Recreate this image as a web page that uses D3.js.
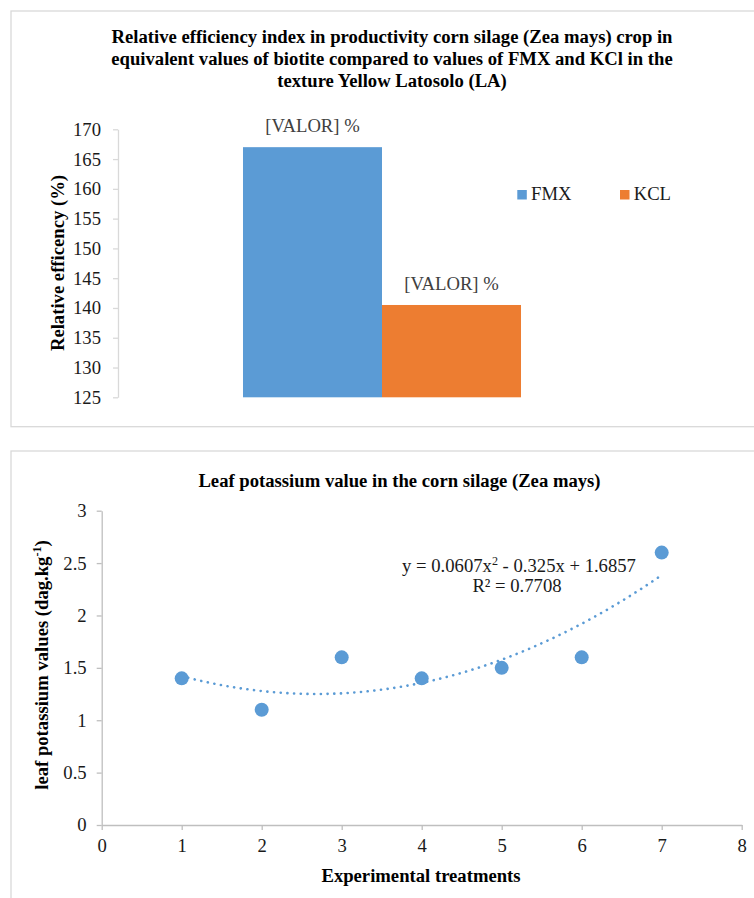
<!DOCTYPE html>
<html>
<head>
<meta charset="utf-8">
<script src="https://cdn.jsdelivr.net/npm/d3@7"></script>
<style>
  html, body { margin: 0; padding: 0; background: #fff; }
  svg { display: block; }
  text { font-family: "Liberation Serif", "Times New Roman", serif; }
</style>
</head>
<body>
<svg id="chart" width="754" height="898"></svg>
<script>
// ---------- Data ----------
const titleLines1 = [
  "Relative efficiency index in productivity corn silage (Zea mays) crop in",
  "equivalent values of biotite compared to values of FMX and KCl in the",
  "texture Yellow Latosolo (LA)"
];
const barCategory = ["LA"];
const barSeries = ["FMX", "KCL"];
const barValues = [167, 140.5];
const barLabels = ["[VALOR] %", "[VALOR] %"];
const barColors = ["#5b9bd5", "#ed7d31"];
const yTicks1 = [125, 130, 135, 140, 145, 150, 155, 160, 165, 170];

const title2 = "Leaf potassium value in the corn silage (Zea mays)";
const treatments = [1, 2, 3, 4, 5, 6, 7];
const potassium = [1.4, 1.1, 1.6, 1.4, 1.5, 1.6, 2.6];
const trendCoef = [1.6857, -0.325, 0.0607]; // c, b, a from the chart label
const xTicks2 = [0, 1, 2, 3, 4, 5, 6, 7, 8];
const yTicks2 = [0, 0.5, 1, 1.5, 2, 2.5, 3];

// ---------- Setup ----------
const FS = 18.67;
const SERIF = "'Liberation Serif','Times New Roman',serif";
const svg = d3.select("#chart");

// chart boxes
svg.append("rect").attr("x", 11).attr("y", 11).attr("width", 762).attr("height", 415.7)
  .attr("fill", "#fff").attr("stroke", "#d9d9d9").attr("stroke-width", 1.3);
svg.append("rect").attr("x", 11).attr("y", 451).attr("width", 777).attr("height", 470)
  .attr("fill", "#fff").attr("stroke", "#d9d9d9").attr("stroke-width", 1.3);

// ---------- Chart 1 ----------
const t1 = svg.append("text").attr("text-anchor", "middle")
  .attr("font-weight", "bold").attr("font-size", FS).attr("fill", "#000");
titleLines1.forEach((l, i) => {
  t1.append("tspan").attr("x", 392).attr("y", 43.3 + i * 21.7).text(l);
});

const p1 = { left: 118, right: 646, top: 129.3, bottom: 397.3 };
const y1 = d3.scaleLinear().domain([125, 170]).range([p1.bottom, p1.top]);
const xCat = d3.scaleBand().domain(barCategory).range([p1.left, p1.right]).paddingInner(0).paddingOuter(0.4496);
const xSer = d3.scaleBand().domain(barSeries).range([0, xCat.bandwidth()]);

const yAxis1 = d3.axisLeft(y1).tickValues(yTicks1).tickSize(5).tickSizeOuter(0).tickPadding(12);
const ga1 = svg.append("g").attr("transform", `translate(${p1.left},0)`).call(yAxis1);
ga1.select(".domain").attr("stroke", "#d9d9d9").attr("stroke-width", 1.3);
ga1.selectAll(".tick line").attr("stroke", "#d9d9d9").attr("stroke-width", 1.3);
ga1.selectAll(".tick text").attr("font-size", FS).attr("fill", "#1a1a1a").attr("font-family", SERIF);

const barData = barSeries.map((s, i) => ({ s, v: barValues[i], label: barLabels[i], c: barColors[i] }));
const gBars = svg.append("g").attr("transform", `translate(${xCat(barCategory[0])},0)`);
gBars.selectAll("rect").data(barData).join("rect")
  .attr("x", d => xSer(d.s)).attr("width", xSer.bandwidth())
  .attr("y", d => y1(d.v)).attr("height", d => y1(125) - y1(d.v))
  .attr("fill", d => d.c);
gBars.selectAll("text").data(barData).join("text")
  .attr("x", d => xSer(d.s) + xSer.bandwidth() / 2)
  .attr("y", d => y1(d.v) - 15.3)
  .attr("text-anchor", "middle").attr("font-size", FS).attr("fill", "#404040")
  .text(d => d.label);

// y-axis title
svg.append("text").attr("transform", "translate(57,263) rotate(-90)")
  .attr("text-anchor", "middle").attr("dy", "0.35em")
  .attr("font-weight", "bold").attr("font-size", FS).attr("fill", "#000")
  .text("Relative efficency (%)");

// legend
const legX = [517.3, 620];
const leg = svg.append("g");
barData.forEach((d, i) => {
  leg.append("rect").attr("x", legX[i]).attr("y", 190).attr("width", 9.5).attr("height", 9.5).attr("fill", d.c);
  leg.append("text").attr("x", legX[i] + 13.7).attr("y", 200).attr("font-size", FS).attr("fill", "#1a1a1a").text(d.s);
});

// ---------- Chart 2 ----------
svg.append("text").attr("x", 399.5).attr("y", 486.7).attr("text-anchor", "middle")
  .attr("font-weight", "bold").attr("font-size", FS).attr("fill", "#000").text(title2);

const p2 = { left: 101.7, right: 741.7, top: 510.7, bottom: 825 };
const x2 = d3.scaleLinear().domain([0, 8]).range([p2.left, p2.right]);
const y2 = d3.scaleLinear().domain([0, 3]).range([p2.bottom, p2.top]);

const gx2 = svg.append("g").attr("transform", `translate(0,${p2.bottom})`)
  .call(d3.axisBottom(x2).tickValues(xTicks2).tickFormat(d3.format("d")).tickSize(5).tickSizeOuter(0).tickPadding(8.4));
const gy2 = svg.append("g").attr("transform", `translate(${p2.left},0)`)
  .call(d3.axisLeft(y2).tickValues(yTicks2).tickFormat(d => String(d)).tickSize(5).tickSizeOuter(0).tickPadding(10));
[gx2, gy2].forEach(g => {
  g.select(".domain").attr("stroke", "#bfbfbf").attr("stroke-width", 1.3);
  g.selectAll(".tick line").attr("stroke", "#bfbfbf").attr("stroke-width", 1.3);
  g.selectAll(".tick text").attr("font-size", FS).attr("fill", "#1a1a1a").attr("font-family", SERIF);
});

// trendline (polynomial order 2, coefficients from the chart's label)
const poly = x => trendCoef[0] + trendCoef[1] * x + trendCoef[2] * x * x;
const xs = d3.range(treatments[0], treatments[treatments.length - 1] + 0.001, 0.05);
svg.append("path").datum(xs)
  .attr("d", d3.line().x(d => x2(d)).y(d => y2(poly(d))))
  .attr("fill", "none").attr("stroke", "#5b9bd5").attr("stroke-width", 2.6)
  .attr("stroke-linecap", "round").attr("stroke-dasharray", "0.1,6.6");

// points
svg.append("g").selectAll("circle").data(treatments.map((t, i) => ({ t, v: potassium[i] })))
  .join("circle").attr("cx", d => x2(d.t)).attr("cy", d => y2(d.v)).attr("r", 7)
  .attr("fill", "#5b9bd5");

// equation
const eq = svg.append("text").attr("text-anchor", "middle").attr("font-size", FS).attr("fill", "#1a1a1a");
const l1 = eq.append("tspan").attr("x", 519).attr("y", 571.7);
l1.append("tspan").text("y = 0.0607x");
l1.append("tspan").attr("font-size", FS * 0.65).attr("dy", -7).text("2");
l1.append("tspan").attr("dy", 7).text(" - 0.325x + 1.6857");
eq.append("tspan").attr("x", 517).attr("y", 591.7).text("R² = 0.7708");

// axis titles
svg.append("text").attr("x", 421).attr("y", 881.7).attr("text-anchor", "middle")
  .attr("font-weight", "bold").attr("font-size", FS).attr("fill", "#000").text("Experimental treatments");
const yl2 = svg.append("text").attr("transform", "translate(41.7,665) rotate(-90)")
  .attr("text-anchor", "middle").attr("dy", "0.35em")
  .attr("font-weight", "bold").attr("font-size", FS).attr("fill", "#000");
yl2.append("tspan").text("leaf potassium values (dag.kg");
yl2.append("tspan").attr("font-size", FS * 0.65).attr("dy", -7).text("-1");
yl2.append("tspan").attr("dy", 7).text(")");
</script>
</body>
</html>
